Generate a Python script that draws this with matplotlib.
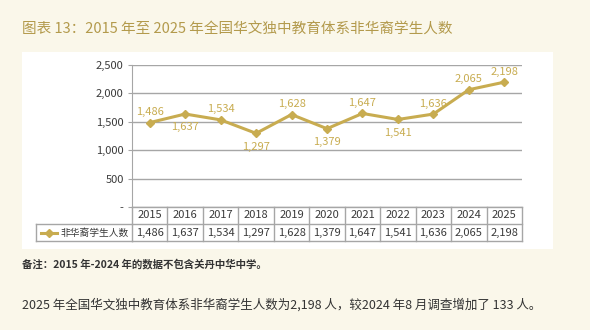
import matplotlib
matplotlib.use("Agg")
import matplotlib.pyplot as plt
from matplotlib.patches import Rectangle
from matplotlib.lines import Line2D
from matplotlib.transforms import blended_transform_factory

years = ["2015", "2016", "2017", "2018", "2019", "2020", "2021", "2022", "2023", "2024", "2025"]
students = [1486, 1637, 1534, 1297, 1628, 1379, 1647, 1541, 1636, 2065, 2198]
label_above = [True, False, True, False, True, False, True, False, True, True, True]
yticks = [0, 500, 1000, 1500, 2000, 2500]
ytick_labels = ["-", "500", "1,000", "1,500", "2,000", "2,500"]
series_name = "非华裔学生人数"

plt.rcParams["font.family"] = ["Noto Sans CJK SC", "DejaVu Sans"]

bg = "#faf7ea"
gold = "#c8ac50"
title_gold = "#b39a4c"
grey_txt = "#3a3a3a"
grid_c = "#a6a6a6"

W, H = 590, 330
fig = plt.figure(figsize=(W / 100, H / 100), dpi=100, facecolor=bg)

def fx(px):
    return px / W

def fy(py):
    return 1 - py / H

# white panel behind the chart
fig.patches.append(Rectangle((fx(22), fy(249)), fx(553) - fx(22), fy(52) - fy(249),
                             transform=fig.transFigure, facecolor="white", edgecolor="none",
                             zorder=-5))

ax = fig.add_axes([fx(132), fy(207), fx(522) - fx(132), fy(65) - fy(207)], zorder=2)
ax.set_facecolor("white")
x = list(range(len(years)))
ax.set_xlim(-0.5, len(years) - 0.5)
ax.set_ylim(0, 2500)
ax.set_yticks(yticks)
ax.set_yticklabels(ytick_labels, fontsize=8, color=grey_txt)
ax.tick_params(axis="y", length=3, color=grid_c, pad=3)
ax.set_xticks([])
ax.yaxis.grid(True, color=grid_c, linewidth=1)
ax.set_axisbelow(True)
for s in ["top", "right", "bottom"]:
    ax.spines[s].set_visible(False)
ax.spines["left"].set_color(grid_c)

ax.plot(x, students, color=gold, linewidth=2.2, marker="D", markersize=4.5, zorder=3)
for xi, v, up in zip(x, students, label_above):
    ax.annotate(f"{v:,}", (xi, v), xytext=(0, 4 if up else -6), textcoords="offset points",
                ha="center", va="bottom" if up else "top", fontsize=8, color=gold)

# data table below the axis
tr = blended_transform_factory(ax.transData, fig.transFigure)
row_top, row_mid, row_bot = fy(207), fy(224), fy(241)
line_kw = dict(color=grid_c, linewidth=1, clip_on=False)
for yy in (row_top, row_mid, row_bot):
    ax.add_line(Line2D([-0.5, len(years) - 0.5], [yy, yy], transform=tr, **line_kw))
for i in range(len(years) + 1):
    ax.add_line(Line2D([i - 0.5, i - 0.5], [row_top, row_bot], transform=tr, **line_kw))
for i, (yr, v) in enumerate(zip(years, students)):
    ax.text(i, (row_top + row_mid) / 2, yr, transform=tr, ha="center", va="center",
            fontsize=8, color=grey_txt)
    ax.text(i, (row_mid + row_bot) / 2, f"{v:,}", transform=tr, ha="center", va="center",
            fontsize=8, color=grey_txt)

# row label cell
for xs, ys in (([36, 132], [row_mid, row_mid]), ([36, 132], [row_bot, row_bot]),
               ([36, 36], [row_mid, row_bot])):
    fig.add_artist(Line2D([fx(v) for v in xs], ys, transform=fig.transFigure, **line_kw))
ymid = (row_mid + row_bot) / 2
fig.add_artist(Line2D([fx(41), fx(49), fx(57)], [ymid, ymid, ymid], transform=fig.transFigure,
                      color=gold, linewidth=2.2, marker="D", markersize=4.5, markevery=[1]))
fig.text(fx(61), ymid, series_name, ha="left", va="center", fontsize=7, color=grey_txt)

fig.text(fx(22), fy(29), "图表 13：2015 年至 2025 年全国华文独中教育体系非华裔学生人数",
         ha="left", va="center", fontsize=10.5, color=title_gold)
fig.text(fx(22), fy(264), "备注：2015 年-2024 年的数据不包含关丹中华中学。",
         ha="left", va="center", fontsize=7.5, color="#333333", fontweight="bold")
fig.text(fx(22), fy(305), "2025 年全国华文独中教育体系非华裔学生人数为2,198 人，较2024 年8 月调查增加了 133 人。",
         ha="left", va="center", fontsize=9, color="#333333")

fig.savefig("out.png", dpi=100, facecolor=bg)
